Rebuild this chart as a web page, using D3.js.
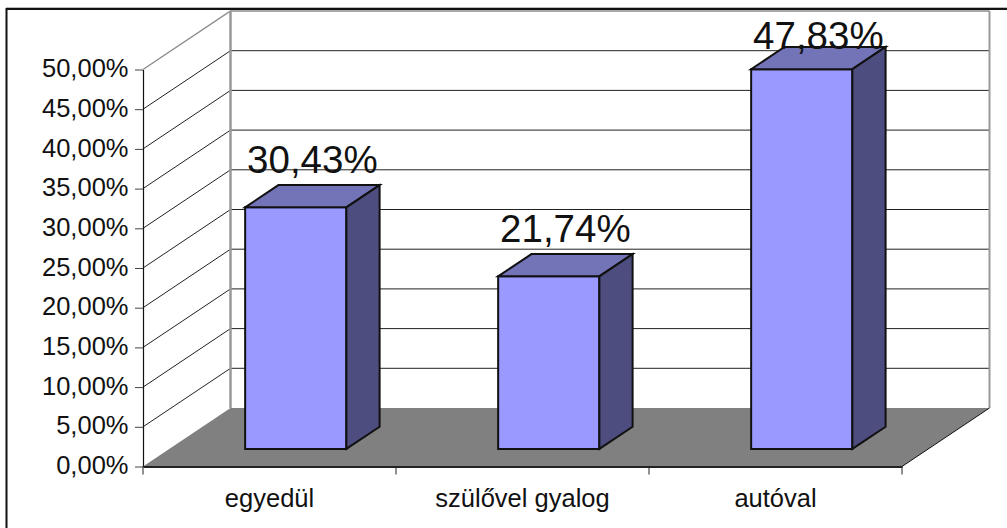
<!DOCTYPE html>
<html>
<head>
<meta charset="utf-8">
<script src="https://cdnjs.cloudflare.com/ajax/libs/d3/7.8.5/d3.min.js"></script>
<style>
    html, body { margin: 0; padding: 0; background: #fff; overflow: hidden; }
    svg { display: block; }
    text { font-family: "Liberation Sans", Arial, sans-serif; fill: #111; }
</style>
</head>
<body>
<div id="chart"></div>
<script>
var categories = ["egyedül", "szülővel gyalog", "autóval"];
var values = [30.43, 21.74, 47.83];
var yTicks = [0, 5, 10, 15, 20, 25, 30, 35, 40, 45, 50];

var width = 1007,
    height = 528;

var svg = d3.select("#chart")
    .append("svg")
    .attr("width", width)
    .attr("height", height);

var xscale = d3.scaleBand()
    .domain(categories)
    .range([143, 902]);

var yscale = d3.scaleLinear()
    .domain([0, 50])
    .range([466.5, 69.5]);

// how far the floor runs back into the page
var depthX = d3.scaleLinear().domain([0, 1]).range([0, 87.5]);
var depthY = d3.scaleLinear().domain([0, 1]).range([0, 58.5]);

var barWidth = xscale.bandwidth() * 0.4;
var barFront = 0.30,
    barBack = 0.68;

function percent(v) {
    return v.toFixed(2).replace(".", ",") + "%";
}

// x in pixels on the front edge, v in data units, d from 0 (front) to 1 (back)
function project(x, v, d) {
    return [x + depthX(d), yscale(v) - depthY(d)];
}

function poly(points) {
    return points.map(function(p) { return p.join(","); }).join(" ");
}

var x0 = xscale.range()[0],
    x1 = xscale.range()[1];

// outer frame, only the top and left sides show
svg.append("line").attr("x1", 6).attr("y1", 7.5).attr("x2", width).attr("y2", 7.5)
    .attr("stroke", "#bbb").attr("stroke-width", 1);
svg.append("path")
    .attr("d", "M" + width + ",9 H6.5 V" + height)
    .attr("fill", "none").attr("stroke", "#111").attr("stroke-width", 2);

// gridlines on side wall and back wall
svg.selectAll(".grid")
    .data(yTicks.slice(1))
    .enter()
    .append("polyline")
    .attr("class", "grid")
    .attr("points", function(d) {
        return poly([project(x0, d, 0), project(x0, d, 1), project(x1, d, 1)]);
    })
    .attr("fill", "none")
    .attr("stroke", function(d) { return d == 50 ? "#8c8c8c" : "#222"; })
    .attr("stroke-width", function(d) { return d == 50 ? 1.5 : 1; });

// wall edges
svg.append("polyline")
    .attr("points", poly([project(x0, 50, 1), project(x0, 0, 1)]))
    .attr("stroke", "#999").attr("stroke-width", 2.5);
svg.append("polyline")
    .attr("points", poly([project(x1, 50, 1), project(x1, 0, 1)]))
    .attr("stroke", "#999").attr("stroke-width", 2);

// floor
svg.append("polygon")
    .attr("points", poly([project(x0, 0, 0), project(x0, 0, 1), project(x1, 0, 1), project(x1, 0, 0)]))
    .attr("fill", "#808080");
svg.append("polyline")
    .attr("points", poly([project(x1, 0, 0), project(x1, 0, 1)]))
    .attr("stroke", "#111").attr("stroke-width", 1);

// Add Y axis
var yAxis = svg.append("g")
    .attr("transform", "translate(" + x0 + ",0)")
    .call(d3.axisLeft(yscale).tickValues(yTicks).tickFormat(percent).tickSize(8).tickPadding(6.5).tickSizeOuter(0));
yAxis.select(".domain").attr("stroke", "#111").attr("stroke-width", 1.2);
yAxis.selectAll("line").attr("stroke", "#444");
yAxis.selectAll("text")
    .attr("dy", "0.28em")
    .style("font-size", "25.5px")
    .style("font-family", "'Liberation Sans', Arial, sans-serif")
    .attr("fill", "#111");

// Add X axis, ticks sit on the band edges
var xAxis = svg.append("g")
    .attr("transform", "translate(0," + yscale(0) + ")")
    .call(d3.axisBottom(xscale).tickSize(0).tickPadding(22));
xAxis.select(".domain").attr("stroke", "#222").attr("stroke-width", 2);
xAxis.selectAll("text")
    .style("font-size", "25.5px")
    .style("font-family", "'Liberation Sans', Arial, sans-serif")
    .attr("fill", "#111");
xAxis.selectAll(".band-tick")
    .data(categories.map(function(c) { return xscale(c); }).concat([x1]))
    .enter()
    .append("line")
    .attr("class", "band-tick")
    .attr("x1", function(d) { return d; })
    .attr("x2", function(d) { return d; })
    .attr("y1", 0)
    .attr("y2", 8)
    .attr("stroke", "#222");

// bars
var bars = svg.selectAll(".bar")
    .data(values)
    .enter()
    .append("g")
    .attr("class", "bar");

function barLeft(i) {
    return xscale(categories[i]) + (xscale.bandwidth() - barWidth) / 2;
}

bars.append("polygon")
    .attr("points", function(d, i) {
        var l = barLeft(i);
        return poly([project(l, 0, barFront), project(l + barWidth, 0, barFront), project(l + barWidth, d, barFront), project(l, d, barFront)]);
    })
    .attr("fill", "#9999ff");
bars.append("polygon")
    .attr("points", function(d, i) {
        var l = barLeft(i);
        return poly([project(l, d, barFront), project(l + barWidth, d, barFront), project(l + barWidth, d, barBack), project(l, d, barBack)]);
    })
    .attr("fill", "#7373b8");
bars.append("polygon")
    .attr("points", function(d, i) {
        var r = barLeft(i) + barWidth;
        return poly([project(r, 0, barFront), project(r, 0, barBack), project(r, d, barBack), project(r, d, barFront)]);
    })
    .attr("fill", "#4d4d80");
bars.selectAll("polygon")
    .attr("stroke", "#111")
    .attr("stroke-width", 2)
    .attr("stroke-linejoin", "miter");

// value labels, pushed down when they would leave the plot
svg.selectAll(".value")
    .data(values)
    .enter()
    .append("text")
    .attr("class", "value")
    .attr("text-anchor", "middle")
    .style("font-size", "38.5px")
    .attr("x", function(d, i) {
        return project(barLeft(i) + barWidth / 2, d, (barFront + barBack) / 2)[0];
    })
    .attr("y", function(d, i) {
        var top = project(barLeft(i), d, (barFront + barBack) / 2)[1];
        return Math.max(top - 23, 48.5);
    })
    .text(percent);
</script>
</body>
</html>
